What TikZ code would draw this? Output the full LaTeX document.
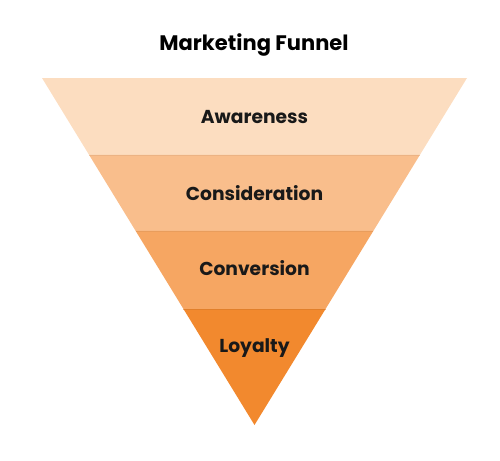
\documentclass[tikz,border=0pt]{standalone}
\usepackage{fontspec}
\setmainfont{Poppins}
\usepackage{tikz}
\usetikzlibrary{calc}

\definecolor{awareC}{RGB}{252,221,192}
\definecolor{considC}{RGB}{249,190,140}
\definecolor{convC}{RGB}{246,166,98}
\definecolor{loyalC}{RGB}{242,137,46}

\tikzset{
  stage/.style={font=\fontsize{18.7}{22}\selectfont\bfseries, text=black!90}
}

\begin{document}
\begin{tikzpicture}[x=1pt, y=-1pt]
  \useasboundingbox (0,0) rectangle (500,460);

  % funnel corners
  \coordinate (tl) at (42,78);
  \coordinate (tr) at (467,78);
  \coordinate (apex) at (254.5,425);

  % band edges
  \coordinate (l1) at ($(tl)!0.2219!(apex)$);
  \coordinate (r1) at ($(tr)!0.2219!(apex)$);
  \coordinate (l2) at ($(tl)!0.4409!(apex)$);
  \coordinate (r2) at ($(tr)!0.4409!(apex)$);
  \coordinate (l3) at ($(tl)!0.6657!(apex)$);
  \coordinate (r3) at ($(tr)!0.6657!(apex)$);

  \fill[awareC] (tl) -- (tr) -- (r1) -- (l1) -- cycle;
  \fill[considC] (l1) -- (r1) -- (r2) -- (l2) -- cycle;
  \fill[convC] (l2) -- (r2) -- (r3) -- (l3) -- cycle;
  \fill[loyalC] (l3) -- (r3) -- (apex) -- cycle;

  % soft seams
  \draw[considC!85!black, opacity=0.35] (l1) -- (r1);
  \draw[convC!85!black, opacity=0.35] (l2) -- (r2);
  \draw[loyalC!85!black, opacity=0.45] (l3) -- (r3);

  \node[font=\fontsize{21}{25}\selectfont\bfseries] (title) at (254,45) {Marketing Funnel};

  \node[stage] (aware) at (254.5,117) {Awareness};
  \node[stage] (consid) at (254.5,193) {Consideration};
  \node[stage] (conv) at (254.5,268) {Conversion};
  \node[stage] (loyal) at (254.5,348) {Loyalty};
\end{tikzpicture}
\end{document}
